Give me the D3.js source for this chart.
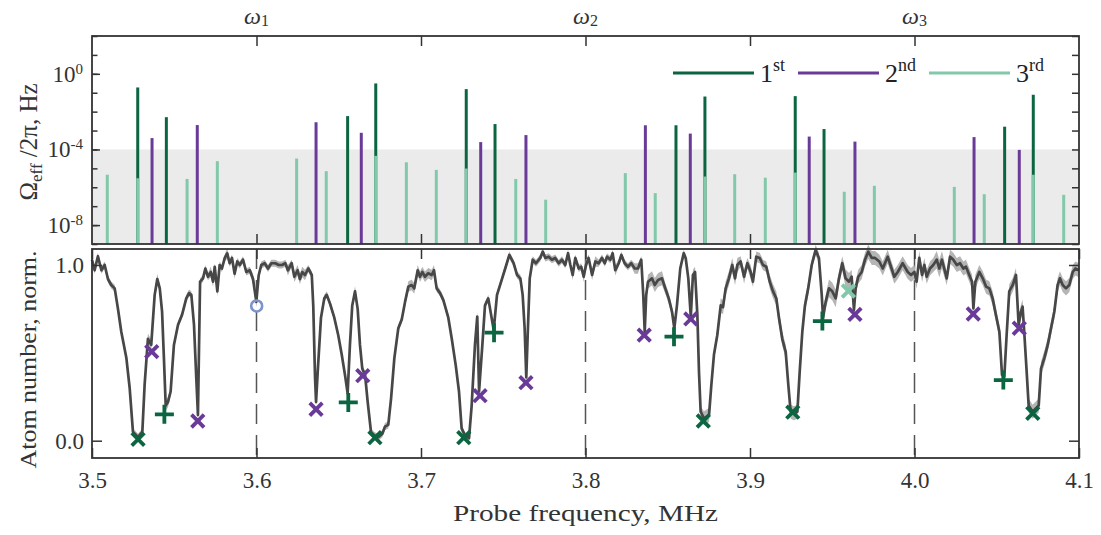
<!DOCTYPE html>
<html><head><meta charset="utf-8">
<script src="https://cdn.jsdelivr.net/npm/d3@7"></script>
<style>body{margin:0;background:#fff}svg{display:block}</style>
</head><body>
<svg id="c" width="1101" height="535"></svg>
<script>
// ---------- DATA ----------
const xTicks = [3.5, 3.6, 3.7, 3.8, 3.9, 4.0, 4.1];
const omegaFreqs = [3.6, 3.8, 4.0];
const omegaIdx = ["1", "2", "3"];
const logMajor = [1e0, 1e-4, 1e-8];
const logMajorExp = ["0", "-4", "-8"];
const decades = [1e-9,1e-8,1e-7,1e-6,1e-5,1e-4,1e-3,1e-2,1e-1,1e0,1e1,1e2];
const shadeLimit = 1e-4;
const atomTicks = [0, 1];
const legendNames = [["1","st"],["2","nd"],["3","rd"]];

// effective Rabi frequencies (Hz)
const ord1Freq = [3.5278,3.5452,3.6554,3.6725,3.7275,3.7450,3.8550,3.8726,3.9275,3.9450,4.0548,4.0722];
const ord1Rabi = [1.9e-1,5.1e-3,5.8e-3,3.1e-1,1.55e-1,2.2e-3,1.9e-3,6.3e-2,6.6e-2,1.2e-3,1.6e-3,7.8e-2];
const ord2Freq = [3.5365,3.5640,3.6362,3.6637,3.7363,3.7638,3.8364,3.8637,3.9360,3.9638,4.0362,4.0637];
const ord2Rabi = [4.0e-4,1.95e-3,2.75e-3,7.6e-4,2.45e-4,5.75e-4,1.9e-3,6.9e-4,4.8e-4,2.6e-4,4.5e-4,9.5e-5];
const ord3Freq = [3.5093,3.5278,3.5578,3.5762,3.6244,3.6424,3.6725,3.6911,3.7093,3.7275,3.7576,3.7758,3.8242,3.8424,3.8726,3.8907,3.9093,3.9275,3.9573,3.9756,4.0242,4.0424,4.0722,4.0907];
const ord3Rabi = [4.6e-6,3.0e-6,2.75e-6,2.4e-5,3.3e-5,7.1e-6,4.6e-5,2.1e-5,8.3e-6,9.8e-6,2.75e-6,2.2e-7,5.6e-6,4.9e-7,3.7e-6,4.9e-6,3.2e-6,6.0e-6,5.8e-7,1.2e-6,1.05e-6,4.3e-7,4.6e-6,4.0e-7];

// measured atom number
const freq = [3.5000,3.5016,3.5036,3.5057,3.5077,3.5097,3.5117,3.5138,3.5158,3.5178,3.5209,3.5229,3.5249,3.5280,3.5306,3.5320,3.5340,3.5360,3.5381,3.5397,3.5412,3.5426,3.5438,3.5448,3.5462,3.5478,3.5498,3.5523,3.5547,3.5573,3.5590,3.5604,3.5620,3.5634,3.5644,3.5657,3.5675,3.5689,3.5705,3.5722,3.5736,3.5746,3.5762,3.5776,3.5790,3.5807,3.5822,3.5837,3.5851,3.5867,3.5883,3.5898,3.5918,3.5938,3.5959,3.5979,3.5999,3.6013,3.6029,3.6050,3.6070,3.6090,3.6114,3.6135,3.6155,3.6175,3.6191,3.6214,
3.6230,3.6250,3.6264,3.6278,3.6295,3.6315,3.6336,3.6345,3.6356,3.6362,3.6372,3.6392,3.6412,3.6427,3.6447,3.6473,3.6497,3.6518,3.6538,3.6554,3.6568,3.6582,3.6599,3.6615,3.6629,3.6643,3.6660,3.6676,3.6696,3.6716,3.6740,3.6765,3.6781,3.6801,3.6818,3.6838,3.6862,3.6883,3.6903,3.6923,3.6943,3.6959,3.6980,3.6994,3.7008,3.7024,3.7044,3.7065,3.7079,3.7095,3.7116,3.7136,3.7166,3.7187,3.7211,3.7231,3.7247,3.7267,3.7292,3.7308,3.7328,3.7342,3.7353,3.7373,3.7389,3.7409,3.7442,3.7462,
3.7492,3.7512,3.7537,3.7563,3.7584,3.7604,3.7618,3.7630,3.7640,3.7650,3.7661,3.7679,3.7699,3.7725,3.7740,3.7756,3.7776,3.7796,3.7816,3.7837,3.7857,3.7877,3.7894,3.7908,3.7922,3.7938,3.7959,3.7974,3.7989,3.8003,3.8019,3.8040,3.8060,3.8080,3.8100,3.8117,3.8131,3.8151,3.8165,3.8181,3.8202,3.8218,3.8238,3.8258,3.8278,3.8299,3.8319,3.8339,3.8351,3.8360,3.8369,3.8380,3.8404,3.8421,3.8441,3.8465,3.8485,3.8506,3.8526,3.8540,3.8556,3.8576,3.8597,3.8609,3.8625,3.8640,3.8653,3.8666,3.8680,3.8690,3.8700,3.8720,3.8751,3.8765,3.8781,3.8801,3.8822,3.8836,3.8852,3.8872,3.8892,3.8909,3.8923,3.8943,3.8964,3.8984,3.9004,3.9018,3.9038,3.9059,3.9079,3.9099,3.9120,3.9140,3.9160,3.9176,3.9196,3.9217,3.9233,3.9247,3.9267,3.9288,3.9302,3.9318,3.9334,3.9354,3.9375,3.9399,3.9419,3.9436,3.9444,3.9460,3.9480,3.9500,3.9521,3.9541,3.9561,3.9581,3.9602,3.9618,3.9632,3.9642,3.9658,3.9679,3.9699,3.9719,3.9740,3.9760,3.9786,3.9807,3.9837,3.9857,3.9877,3.9898,3.9928,3.9959,3.9979,3.9999,4.0013,4.0029,4.0046,4.0060,4.0074,4.0094,4.0114,4.0135,4.0151,4.0167,4.0196,4.0216,4.0236,4.0257,4.0277,4.0297,4.0313,4.0333,4.0350,4.0358,4.0370,4.0394,4.0415,4.0435,4.0455,4.0475,4.0495,4.0516,4.0532,4.0546,4.0560,4.0576,4.0597,4.0617,4.0633,4.0647,4.0657,4.0667,4.0682,4.0694,4.0718,4.0755,4.0769,4.0789,4.0810,4.0830,4.0850,4.0870,4.0884,4.0901,4.0921,4.0941,4.0962,4.0978,4.1000];
const atom = [1.03,0.97,1.05,0.97,1.00,0.92,0.886,0.867,0.75,0.62,0.47,0.30,0.05,0.02,0.05,0.32,0.58,0.545,0.83,0.92,0.867,0.734,0.45,0.20,0.22,0.28,0.545,0.66,0.715,0.81,0.84,0.83,0.66,0.355,0.146,0.905,0.924,0.98,0.933,0.96,0.905,0.99,0.85,1.00,0.98,1.04,1.066,1.01,1.04,0.95,1.02,1.00,1.03,0.96,0.97,0.92,0.79,0.94,1.00,1.01,0.98,1.01,1.01,1.00,1.00,1.01,0.97,1.01,
0.933,0.97,0.92,0.96,0.943,0.98,0.943,0.77,0.355,0.22,0.39,0.70,0.81,0.83,0.78,0.70,0.60,0.49,0.374,0.27,0.545,0.77,0.85,0.75,0.545,0.41,0.374,0.22,0.05,0.03,0.02,0.04,0.08,0.09,0.24,0.47,0.64,0.69,0.79,0.877,0.886,0.867,0.97,0.933,0.96,0.933,0.953,0.943,0.97,0.867,0.84,0.80,0.70,0.58,0.43,0.28,0.07,0.03,0.014,0.20,0.545,0.706,0.28,0.545,0.77,0.81,0.63,0.83,
0.92,0.98,1.057,1.01,0.943,0.924,0.83,0.64,0.36,0.64,0.924,1.03,1.01,1.04,1.076,1.04,1.047,1.03,1.04,1.01,1.03,1.00,1.067,1.00,0.943,1.04,0.98,0.99,0.933,1.00,1.04,0.943,1.02,1.01,1.04,1.01,1.047,1.03,1.067,0.97,1.01,1.057,1.01,0.99,1.01,0.98,0.98,1.03,0.83,0.62,0.83,0.905,0.924,0.886,0.915,0.924,0.867,0.81,0.734,0.64,0.77,0.98,1.067,1.04,0.924,0.706,0.943,0.96,0.715,0.39,0.165,0.127,0.146,0.317,0.49,0.60,0.77,0.76,0.867,0.924,1.00,0.924,1.00,1.02,0.933,1.01,0.96,0.905,1.047,1.04,1.00,0.99,0.905,0.85,0.81,0.70,0.58,0.506,0.317,0.165,0.156,0.165,0.39,0.62,0.77,0.867,1.00,1.085,1.04,0.83,0.70,0.79,0.867,0.85,0.81,0.924,1.01,0.924,0.905,0.933,0.744,0.867,0.933,0.96,1.03,1.076,1.04,1.04,1.02,0.98,1.047,0.99,0.933,0.96,1.01,0.96,0.943,0.96,0.905,1.04,0.943,1.00,0.933,0.98,1.00,1.03,0.98,1.03,0.924,1.047,1.03,1.00,1.01,0.98,0.99,0.943,0.905,0.753,0.905,0.96,0.924,0.877,0.867,0.81,0.715,0.62,0.374,0.364,0.60,0.85,0.886,0.943,0.66,0.734,0.763,0.62,0.39,0.20,0.165,0.20,0.41,0.47,0.545,0.64,0.734,0.886,0.924,0.886,0.867,0.886,0.96,0.98,0.97];
const atomErr = [
0.02,0.02,0.02,0.02,0.02,0.02,0.02,0.02,0.02,0.02,
0.02,0.02,0.02,0.02,0.02,0.02,0.03,0.03,0.03,0.03,
0.02,0.02,0.02,0.03,0.03,0.02,0.02,0.02,0.02,0.02,
0.02,0.02,0.02,0.02,0.03,0.02,0.02,0.02,0.02,0.03,
0.03,0.02,0.03,0.02,0.02,0.02,0.03,0.02,0.02,0.03,
0.02,0.02,0.02,0.02,0.02,0.03,0.03,0.02,0.02,0.02,
0.02,0.02,0.02,0.02,0.02,0.02,0.03,0.02,
0.03,0.03,0.03,0.03,0.03,0.02,0.02,0.02,0.02,0.02,
0.02,0.02,0.02,0.02,0.02,0.02,0.02,0.02,0.02,0.02,
0.02,0.02,0.03,0.02,0.02,0.02,0.02,0.02,0.02,0.02,
0.02,0.02,0.02,0.02,0.02,0.02,0.02,0.02,0.02,0.03,
0.03,0.03,0.03,0.03,0.03,0.03,0.03,0.03,0.03,0.02,
0.02,0.02,0.02,0.02,0.02,0.02,0.02,0.02,0.02,0.02,
0.02,0.03,0.02,0.02,0.02,0.02,0.02,0.02,
0.02,0.02,0.02,0.02,0.02,0.02,0.02,0.02,0.02,0.02,
0.02,0.02,0.02,0.02,0.02,0.02,0.02,0.02,0.02,0.02,
0.02,0.02,0.02,0.02,0.03,0.02,0.02,0.02,0.03,0.03,
0.02,0.03,0.03,0.02,0.02,0.02,0.02,0.02,0.02,0.03,
0.02,0.02,0.02,0.02,0.02,0.03,0.03,0.02,0.03,0.03,
0.04,0.04,0.04,0.04,0.04,0.04,0.03,0.03,0.03,0.04,
0.03,0.02,0.02,0.02,0.03,0.03,0.03,0.03,0.03,0.03,
0.03,0.04,0.04,0.03,0.03,0.03,0.04,0.04,0.04,0.04,
0.04,0.04,0.04,0.03,0.04,0.03,0.04,0.03,0.03,0.03,
0.03,0.03,0.04,0.04,0.04,0.04,0.04,0.04,0.04,0.04,
0.04,0.04,0.04,0.04,0.04,0.04,0.03,0.03,0.03,0.03,
0.03,0.04,0.05,0.05,0.05,0.04,0.04,0.05,0.05,0.04,
0.04,0.04,0.04,0.04,0.04,0.04,0.04,0.04,0.04,0.04,
0.04,0.04,0.04,0.04,0.04,0.04,0.04,0.04,0.04,0.04,
0.04,0.04,0.04,0.04,0.04,0.05,0.05,0.05,0.04,0.04,
0.04,0.04,0.04,0.04,0.04,0.04,0.04,0.04,0.04,0.04,
0.04,0.04,0.04,0.04,0.04,0.04,0.03,0.03,0.04,0.04,
0.04,0.04,0.04,0.04,0.04,0.04,0.04,0.04,0.04,0.04,
0.04,0.04,0.04,0.04,0.04,0.04,0.04,0.04,0.04,0.04,
0.04,0.04,0.04];

// identified resonances (markers)
const m1xFreq = [3.528,3.672,3.726,3.8716,3.926,4.0719];
const m1xAtom = [0.008,0.017,0.017,0.112,0.162,0.156];
const m1pFreq = [3.544,3.6558,3.7444,3.8538,3.944,4.054];
const m1pAtom = [0.150,0.218,0.615,0.592,0.681,0.345];
const m2xFreq = [3.5363,3.5643,3.6362,3.6646,3.7359,3.7638,3.8357,3.8640,3.9638,4.0357,4.0637];
const m2xAtom = [0.507,0.112,0.179,0.370,0.256,0.330,0.601,0.693,0.719,0.721,0.640];
const m3xFreq = [3.9598];
const m3xAtom = [0.852];
const circFreq = [3.6001];
const circAtom = [0.767];

// ---------- STYLE / LAYOUT ----------
const C1 = "#0b6540", C2 = "#6a3a98", C3 = "#82c8aa", CIRC = "#7d93cc";
const L = 92, R = 1079, T1 = 36, B1 = 244, T2 = 249, B2 = 458;
const FONT = "'Liberation Serif', 'Times New Roman', serif";
const INK = "#333";

const svg = d3.select("#c");
const x = d3.scaleLinear().domain([3.5, 4.1]).range([L, R]);
const y1 = d3.scaleLog().domain([1e-9, 1e2]).range([B1, T1]);
const y2 = d3.scaleLinear().domain([-0.0985, 1.091]).range([B2, T2]);

// ---------- TOP PANEL ----------
const topG = svg.append("g");
topG.append("rect").attr("x", L).attr("width", R - L)
  .attr("y", y1(shadeLimit)).attr("height", B1 - y1(shadeLimit)).attr("fill", "#ebebeb");

function bars(fr, vals, col) {
  topG.append("g").selectAll("line").data(fr).join("line")
    .attr("x1", d => x(d)).attr("x2", d => x(d))
    .attr("y1", y1(1e-9)).attr("y2", (d, i) => y1(vals[i]))
    .attr("stroke", col).attr("stroke-width", 3);
}
bars(ord1Freq, ord1Rabi, C1);
bars(ord2Freq, ord2Rabi, C2);
bars(ord3Freq, ord3Rabi, C3);

const tickStyle = g => { g.select(".domain").remove(); g.selectAll(".tick line").attr("stroke", INK).attr("stroke-width", 1.5); };
topG.append("g").attr("transform", `translate(0,${T1})`)
  .call(d3.axisTop(x).tickValues(xTicks.slice(1, -1)).tickSize(-10).tickFormat(""))
  .call(tickStyle);
topG.append("g").attr("transform", `translate(0,${B1})`)
  .call(d3.axisBottom(x).tickValues(xTicks.slice(1, -1)).tickSize(-10).tickFormat(""))
  .call(tickStyle);
topG.append("g").attr("transform", `translate(${L},0)`)
  .call(d3.axisLeft(y1).tickValues(decades).tickSize(-5.5).tickFormat(""))
  .call(tickStyle);
topG.append("g").attr("transform", `translate(${R},0)`)
  .call(d3.axisRight(y1).tickValues(decades).tickSize(-7).tickFormat(""))
  .call(tickStyle);
const lm = topG.append("g").attr("transform", `translate(${L},0)`)
  .call(d3.axisLeft(y1).tickValues(logMajor).tickSize(-8).tickPadding(9).tickFormat(""))
  .call(tickStyle);
lm.selectAll(".tick text").each(function (d, i) {
  const t = d3.select(this).attr("font-family", FONT).attr("font-size", 23).attr("fill", INK)
    .attr("dy", "0.32em");
  t.append("tspan").text("10");
  t.append("tspan").attr("dy", -8).attr("font-size", 15).text(logMajorExp[i]);
});

svg.append("g").selectAll("text").data(omegaFreqs).join("text")
  .attr("x", d => x(d)).attr("y", 24).attr("text-anchor", "middle")
  .attr("font-family", FONT).attr("font-size", 24).attr("fill", INK)
  .each(function (d, i) {
    const t = d3.select(this);
    t.append("tspan").attr("font-style", "italic").text("ω");
    t.append("tspan").attr("font-size", 16).attr("dy", 2).text(omegaIdx[i]);
  });

const legX = [673, 798, 929];
const legCols = [C1, C2, C3];
const leg = svg.append("g");
legendNames.forEach((n, i) => {
  leg.append("line").attr("x1", legX[i]).attr("x2", legX[i] + 81)
    .attr("y1", 73).attr("y2", 73).attr("stroke", legCols[i]).attr("stroke-width", 3.2);
  const t = leg.append("text").attr("x", legX[i] + 87).attr("y", 82)
    .attr("font-family", FONT).attr("font-size", 26).attr("fill", "#222");
  t.append("tspan").text(n[0]);
  t.append("tspan").attr("dy", -11).attr("font-size", 18).text(n[1]);
});

topG.append("rect").attr("x", L).attr("y", T1).attr("width", R - L).attr("height", B1 - T1)
  .attr("fill", "none").attr("stroke", INK).attr("stroke-width", 1.8);

// ---------- BOTTOM PANEL ----------
const botG = svg.append("g");
botG.append("g").selectAll("line").data(omegaFreqs).join("line")
  .attr("x1", d => x(d)).attr("x2", d => x(d)).attr("y1", T2).attr("y2", B2)
  .attr("stroke", "#555").attr("stroke-width", 1.5).attr("stroke-dasharray", "20,11");

const pts = freq.map((f, i) => ({ f, v: atom[i], e: atomErr[i] }));
botG.append("path").datum(pts)
  .attr("d", d3.area().x(d => x(d.f)).y0(d => y2(d.v - d.e)).y1(d => y2(d.v + d.e)))
  .attr("fill", "#b5b5b5").attr("stroke", "none");
botG.append("path").datum(pts)
  .attr("d", d3.line().x(d => x(d.f)).y(d => y2(d.v)))
  .attr("fill", "none").attr("stroke", "#474747").attr("stroke-width", 2.7).attr("stroke-linejoin", "round");

function crosses(fr, vals, col, h) {
  botG.append("g").selectAll("path").data(fr).join("path")
    .attr("d", (d, i) => { const cx = x(d), cy = y2(vals[i]);
      return `M${cx - h},${cy - h}L${cx + h},${cy + h}M${cx - h},${cy + h}L${cx + h},${cy - h}`; })
    .attr("stroke", col).attr("stroke-width", 3.8).attr("fill", "none");
}
function pluses(fr, vals, col, h) {
  botG.append("g").selectAll("path").data(fr).join("path")
    .attr("d", (d, i) => { const cx = x(d), cy = y2(vals[i]);
      return `M${cx - h},${cy}L${cx + h},${cy}M${cx},${cy - h}L${cx},${cy + h}`; })
    .attr("stroke", col).attr("stroke-width", 3.8).attr("fill", "none");
}
crosses(m1xFreq, m1xAtom, C1, 6.3);
pluses(m1pFreq, m1pAtom, C1, 9.5);
crosses(m2xFreq, m2xAtom, C2, 6.3);
crosses(m3xFreq, m3xAtom, C3, 6.3);
botG.append("g").selectAll("circle").data(circFreq).join("circle")
  .attr("cx", d => x(d)).attr("cy", (d, i) => y2(circAtom[i])).attr("r", 5.5)
  .attr("fill", "none").attr("stroke", CIRC).attr("stroke-width", 2.6);

const xb = botG.append("g").attr("transform", `translate(0,${B2})`)
  .call(d3.axisBottom(x).tickValues(xTicks).tickSize(-10).tickPadding(14).tickFormat(d3.format(".1f")))
  .call(tickStyle);
xb.selectAll(".tick text").attr("font-family", FONT).attr("font-size", 23).attr("fill", INK);
botG.append("g").attr("transform", `translate(0,${T2})`)
  .call(d3.axisTop(x).tickValues(xTicks).tickSize(-10).tickFormat(""))
  .call(tickStyle);
const yl = botG.append("g").attr("transform", `translate(${L},0)`)
  .call(d3.axisLeft(y2).tickValues(atomTicks).tickSize(-10).tickPadding(8).tickFormat(d3.format(".1f")))
  .call(tickStyle);
yl.selectAll(".tick text").attr("font-family", FONT).attr("font-size", 23).attr("fill", INK);
botG.append("g").attr("transform", `translate(${R},0)`)
  .call(d3.axisRight(y2).tickValues(atomTicks).tickSize(-10).tickFormat(""))
  .call(tickStyle);

botG.append("rect").attr("x", L).attr("y", T2).attr("width", R - L).attr("height", B2 - T2)
  .attr("fill", "none").attr("stroke", INK).attr("stroke-width", 1.8);

// ---------- AXIS TITLES ----------
svg.append("text").attr("x", (L + R) / 2).attr("y", 521).attr("text-anchor", "middle")
  .attr("font-family", FONT).attr("font-size", 24).attr("fill", INK)
  .attr("textLength", 265).attr("lengthAdjust", "spacingAndGlyphs")
  .text("Probe frequency, MHz");
svg.append("text").attr("transform", `translate(36,${(T2 + B2) / 2 + 6}) rotate(-90)`)
  .attr("text-anchor", "middle").attr("font-family", FONT).attr("font-size", 24).attr("fill", INK)
  .attr("textLength", 218).attr("lengthAdjust", "spacingAndGlyphs")
  .text("Atom number, norm.");
const yt = svg.append("text").attr("transform", `translate(37,${(T1 + B1) / 2 + 2}) rotate(-90)`)
  .attr("text-anchor", "middle").attr("font-family", FONT).attr("font-size", 25).attr("fill", INK);
yt.append("tspan").text("Ω");
yt.append("tspan").attr("font-size", 17).attr("dy", 5).text("eff");
yt.append("tspan").attr("dy", -5).text(" /2π, Hz");
</script>
</body></html>
